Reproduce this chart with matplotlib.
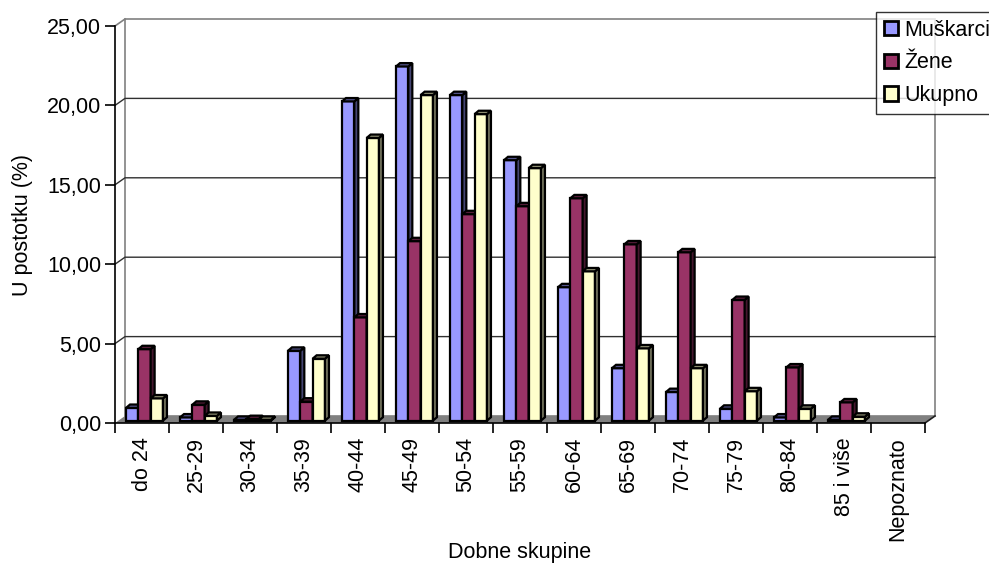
import numpy as np
import matplotlib
matplotlib.use("Agg")
import matplotlib.pyplot as plt
from matplotlib.patches import Polygon, Patch

plt.rcParams['font.family'] = ['Liberation Sans', 'DejaVu Sans']

# data
groups = ['do 24', '25-29', '30-34', '35-39', '40-44', '45-49', '50-54', '55-59',
          '60-64', '65-69', '70-74', '75-79', '80-84', '85 i više', 'Nepoznato']
muskarci = [0.8, 0.2, 0.05, 4.4, 20.1, 22.3, 20.5, 16.4, 8.4, 3.3, 1.8, 0.75, 0.2, 0.05, 0]
zene = [4.5, 1.0, 0.1, 1.2, 6.5, 11.3, 13.0, 13.5, 14.0, 11.1, 10.6, 7.6, 3.35, 1.15, 0]
ukupno = [1.4, 0.3, 0.05, 3.9, 17.8, 20.5, 19.3, 15.9, 9.4, 4.55, 3.3, 1.85, 0.75, 0.25, 0]
series = ['Muškarci', 'Žene', 'Ukupno']
colors = ['#9999FF', '#993366', '#FFFFCC']

fs = 15.5
n = len(groups)
fig = plt.figure(figsize=(9.89, 5.67), dpi=100)
ax = fig.add_axes([115/989, 1 - 423/567, 810/989, 397/567])
ax.set_xlim(-0.5, n - 0.5)
ax.set_ylim(0, 25)

# pseudo 3D offsets (data units)
dxw, dyw = 10/54, 7/15.88      # walls
dxb, dyb = 4/54, 3.4/15.88     # bar depth
base = 0.15
bw = 0.228

def shade(c, f):
    r, g, b = matplotlib.colors.to_rgb(c)
    return (r*f, g*f, b*f)

# back wall, side wall, gridlines
x0, x1 = -0.5, n - 0.5
ax.add_patch(Polygon([(x0+dxw, dyw), (x1+dxw, dyw), (x1+dxw, 25+dyw), (x0+dxw, 25+dyw)],
                     closed=True, fc='white', ec='#808080', lw=1.2, clip_on=False, zorder=0))
ax.plot([x0, x0+dxw], [25, 25+dyw], color='#808080', lw=1.2, clip_on=False, zorder=1)
for yv in [5, 10, 15, 20]:
    ax.plot([x0, x0+dxw, x1+dxw], [yv, yv+dyw, yv+dyw], color='#303030', lw=1.0,
            clip_on=False, zorder=1)
# floor
ax.add_patch(Polygon([(x0, 0), (x1, 0), (x1+dxw, dyw), (x0+dxw, dyw)], closed=True,
                     fc='#808080', ec='none', clip_on=False, zorder=1))
ax.plot([x1, x1+dxw], [0, dyw], color='#202020', lw=1.2, clip_on=False, zorder=1)

# bars
offsets = [-0.182, 0.046, 0.274]
z = 2
for i in range(n):
    for k, vals in enumerate([muskarci, zene, ukupno]):
        v = vals[i]
        if v <= 0:
            continue
        c = colors[k]
        l = i + offsets[k] - bw/2
        r = l + bw
        b, t = base, base + v
        ax.add_patch(Polygon([(l, b), (r, b), (r, t), (l, t)], closed=True, fc=c,
                             ec='black', lw=1.6, zorder=z, clip_on=False))
        ax.add_patch(Polygon([(r, b), (r+dxb, b+dyb), (r+dxb, t+dyb), (r, t)], closed=True,
                             fc=shade(c, 0.45), ec='black', lw=1.6, zorder=z, clip_on=False))
        ax.add_patch(Polygon([(l, t), (r, t), (r+dxb, t+dyb), (l+dxb, t+dyb)], closed=True,
                             fc=shade(c, 0.55), ec='black', lw=1.6, zorder=z, clip_on=False))
        z += 0.01

# axes
for s in ['top', 'right']:
    ax.spines[s].set_visible(False)
ax.spines['left'].set_linewidth(1.2)
ax.spines['bottom'].set_linewidth(1.2)
ax.spines['left'].set_zorder(50)
ax.spines['bottom'].set_zorder(50)
ax.set_facecolor('none')

ax.set_yticks(np.arange(0, 26, 5))
ax.set_yticklabels([f'{v:.2f}'.replace('.', ',') for v in np.arange(0, 26, 5)])
ax.tick_params(axis='y', length=7, width=1.2, pad=3, labelsize=fs)

ax.set_xticks(np.arange(n))
ax.set_xticklabels(groups, rotation=90, va='top', ha='center')
ax.set_xticks(np.arange(n + 1) - 0.5, minor=True)
ax.tick_params(axis='x', which='major', length=0, pad=10, labelsize=fs)
ax.tick_params(axis='x', which='minor', length=7, width=1.2)

ax.set_ylabel('U postotku (%)', fontsize=fs, labelpad=10)
ax.set_xlabel('Dobne skupine', fontsize=fs)
ax.xaxis.set_label_coords(0.5, -(542 - 423) / 397)

handles = [Patch(fc=c, ec='black', lw=2) for c in colors]
leg = fig.legend(handles, series, loc='upper left', bbox_to_anchor=(876/989, 1 - 12/567),
                 fontsize=fs, frameon=True, fancybox=False, handlelength=0.65,
                 handleheight=0.65, handletextpad=0.3, borderpad=0.35, labelspacing=0.55,
                 borderaxespad=0)
leg.get_frame().set_edgecolor('black')
leg.get_frame().set_linewidth(1.0)

fig.savefig('out.png', dpi=100)
